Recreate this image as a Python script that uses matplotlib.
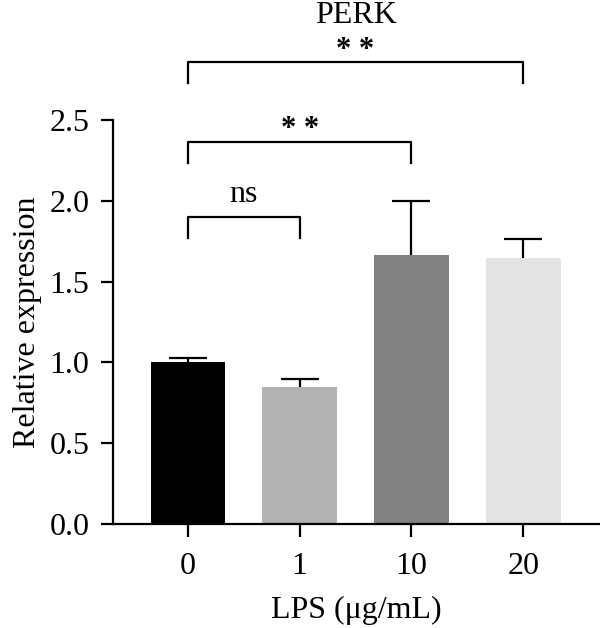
import matplotlib
matplotlib.use("Agg")
import matplotlib.pyplot as plt
import numpy as np

# data
doses = ['0', '1', '10', '20']
means = [1.00, 0.85, 1.667, 1.648]
errs = [0.03, 0.05, 0.33, 0.117]
bar_colors = ['#000000', '#b2b2b2', '#828282', '#e3e3e3']

# significance brackets: (left bar, right bar, height, label)
brackets = [(0, 1, 1.90, 'ns'), (0, 2, 2.367, '* *'), (0, 3, 2.856, '* *')]

plt.rcParams['font.family'] = ['Liberation Serif', 'DejaVu Serif']
plt.rcParams['font.size'] = 23

fig = plt.figure(figsize=(6, 6.28), dpi=100)
ax = fig.add_axes([0.1883, 0.1656, 0.8117, 0.6433])

x = np.arange(len(doses))
ax.bar(x, means, width=0.67, color=bar_colors, zorder=2)
_, caps, _ = ax.errorbar(x, means, yerr=[np.zeros(len(errs)), errs], fmt='none',
                         ecolor='black', elinewidth=1.6, capsize=13.5,
                         capthick=1.6, zorder=3)
caps[0].set_visible(False)  # only the upper cap

# brackets drawn above the axis range
drop = 0.13
for i, j, h, lab in brackets:
    ax.plot([x[i], x[i], x[j], x[j]], [h - drop, h, h, h - drop],
            color='black', lw=1.6, clip_on=False)
    if lab == 'ns':
        ax.text((x[i] + x[j]) / 2, h + 0.09, lab, ha='center', va='baseline')
    else:
        ax.text((x[i] + x[j]) / 2, h + 0.03, lab, ha='center', va='baseline',
                fontsize=22, fontweight='bold')

ax.set_xlim(-0.671, 3.688)
ax.set_ylim(0, 2.5)
ax.set_yticks([0, 0.5, 1.0, 1.5, 2.0, 2.5])
ax.set_yticklabels(['0.0', '0.5', '1.0', '1.5', '2.0', '2.5'])
ax.set_xticks(x)
ax.set_xticklabels(doses)

for side in ['top', 'right']:
    ax.spines[side].set_visible(False)
for side in ['left', 'bottom']:
    ax.spines[side].set_linewidth(1.6)
ax.tick_params(width=1.6, length=9, pad=8)
ax.tick_params(axis='x', pad=11)

ax.set_ylabel('Relative expression', labelpad=5)
ax.set_xlabel('LPS (μg/mL)', labelpad=11)
fig.text(0.593, 0.963, 'PERK', ha='center', va='baseline', fontsize=23)

fig.savefig('out.png', dpi=100)
